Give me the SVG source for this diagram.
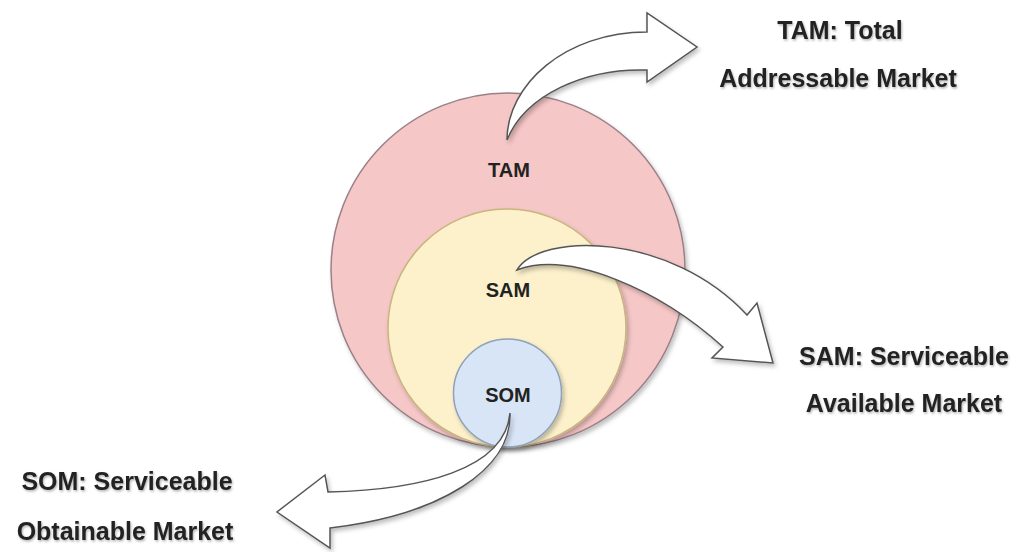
<svg xmlns="http://www.w3.org/2000/svg" width="1019" height="552" viewBox="0 0 1019 552">
  <defs>
    <filter id="sh" x="-20%" y="-20%" width="140%" height="140%">
      <feDropShadow dx="2" dy="3" stdDeviation="2" flood-color="#000" flood-opacity="0.25"/>
    </filter>
    <filter id="tsh" x="-10%" y="-30%" width="120%" height="160%">
      <feDropShadow dx="1" dy="1.5" stdDeviation="1.2" flood-color="#000" flood-opacity="0.3"/>
    </filter>
  </defs>
  <style>
    .lbl { font-family: "Liberation Sans", Arial, sans-serif; font-weight: bold; fill: #222; text-anchor: middle; }
    .inner { font-size: 20px; }
    .outer { font-size: 25px; }
    .arrow { fill: #ffffff; stroke: #555555; stroke-width: 1.5; stroke-linejoin: miter; filter: url(#sh); }
  </style>
  <rect width="1019" height="552" fill="#ffffff"/>

  <g id="tam">
    <circle cx="508" cy="270" r="177" fill="#f5c7c6" stroke="#9a8088" stroke-width="1.5" filter="url(#sh)"/>
    <text class="lbl inner" x="509" y="177">TAM</text>
  </g>
  <g id="sam">
    <circle cx="507" cy="328" r="119" fill="#fdf1cb" stroke="#c9b57e" stroke-width="1.5" filter="url(#sh)"/>
    <text class="lbl inner" x="508" y="297">SAM</text>
  </g>
  <g id="som">
    <circle cx="507.5" cy="393" r="54" fill="#d8e5f6" stroke="#8fa2b8" stroke-width="1.5" filter="url(#sh)"/>
    <text class="lbl inner" x="508" y="402">SOM</text>
  </g>

  <g id="connectors">
    <path class="arrow" d="M507,140 C507,85 565,32 647,32 L647,13 L697,47 L647,82 L647,70 C585,68 525,95 507,140 Z"/>
    <path class="arrow" d="M517,270 C540,232 670,232 747,315 L757,303 L773,363 L712,358 L723,347 C660,290 570,250 517,270 Z"/>
    <path class="arrow" d="M510,413 C512,470 440,515 330,528 L330,548 L277,512 L325,475 L328,492 C420,490 505,470 510,413 Z"/>
  </g>

  <g id="tam-label" filter="url(#tsh)">
    <text class="lbl outer" x="840" y="39">TAM: Total</text>
    <text class="lbl outer" x="838" y="87">Addressable Market</text>
  </g>
  <g id="sam-label" filter="url(#tsh)">
    <text class="lbl outer" x="904" y="365">SAM: Serviceable</text>
    <text class="lbl outer" x="904" y="412">Available Market</text>
  </g>
  <g id="som-label" filter="url(#tsh)">
    <text class="lbl outer" x="127" y="490">SOM: Serviceable</text>
    <text class="lbl outer" x="125" y="540">Obtainable Market</text>
  </g>
</svg>
